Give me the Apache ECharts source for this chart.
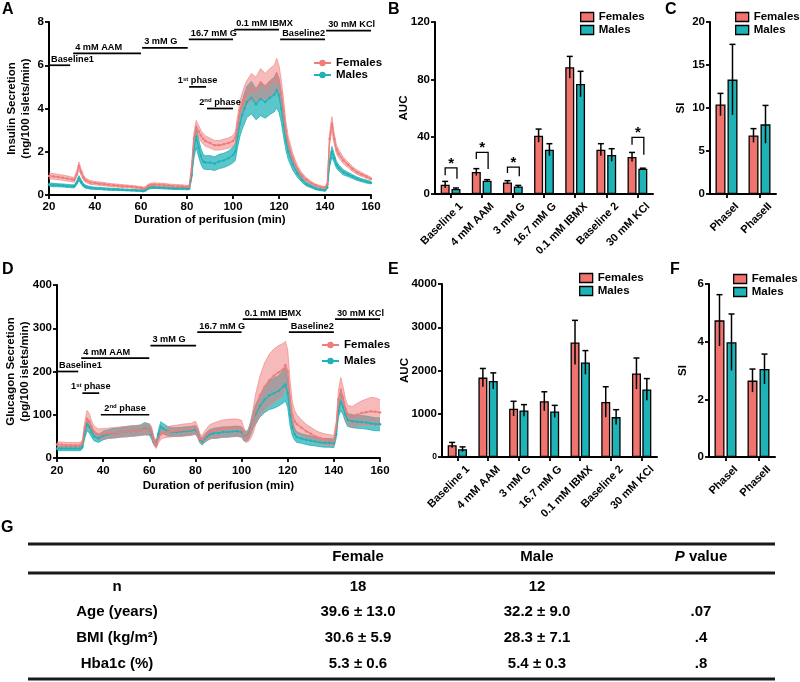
<!DOCTYPE html>
<html><head><meta charset="utf-8">
<script src="https://cdn.jsdelivr.net/npm/echarts@6/dist/echarts.min.js"></script>
<style>html,body{margin:0;padding:0;background:#fff}#c{width:800px;height:682px}</style>
</head><body><div id="c"></div>
<script>
// ---------- time course data (minutes) ----------
const times = [20,22,24,26,28,30, 31,32,33,34,35,36, 38,40,42,44,46,48,50,52,54,56,58,60, 61,62,63,64,65,66, 68,70,72,74,76,78,80, 81,82,83,84,85,86,87,88, 90,92,94,96,98,100, 101,102,103,104,105,106, 108,110,112,114,116,118, 119,120,121,122,123,124, 126,128,130,132,134,136,138,140, 141,142,143,144,145,146, 148,150,152,154,156,158,160];

// Insulin (ng/100 islets/min)
const insFem = [0.88,0.86,0.83,0.80,0.76,0.72, 0.70,0.95,1.35,1.05,0.80,0.68, 0.58,0.55,0.52,0.50,0.47,0.45,0.43,0.41,0.40,0.38,0.36,0.33, 0.30,0.32,0.42,0.46,0.47,0.48, 0.47,0.46,0.44,0.42,0.41,0.40,0.38, 0.40,1.20,2.60,3.15,2.95,2.75,2.60,2.50, 2.40,2.30,2.30,2.35,2.40,2.50, 2.65,3.30,3.90,4.20,4.50,4.70, 5.00,4.85,5.20,5.00,5.20,5.30, 5.60,5.30,4.70,3.90,3.00,2.40, 1.70,1.20,0.90,0.70,0.55,0.45,0.38,0.34, 0.50,2.60,3.30,2.60,2.10,1.90, 1.60,1.40,1.20,1.05,0.95,0.85,0.75];
const insFemSem = [0.13,0.13,0.12,0.12,0.12,0.11, 0.11,0.13,0.18,0.15,0.12,0.10, 0.09,0.08,0.08,0.08,0.07,0.07,0.07,0.07,0.06,0.06,0.06,0.06, 0.06,0.06,0.07,0.08,0.08,0.08, 0.08,0.08,0.07,0.07,0.07,0.07,0.07, 0.07,0.15,0.25,0.30,0.28,0.25,0.24,0.24, 0.23,0.22,0.22,0.23,0.24,0.25, 0.27,0.35,0.45,0.50,0.55,0.58, 0.62,0.60,0.65,0.62,0.65,0.70, 0.72,0.68,0.60,0.50,0.40,0.32, 0.22,0.16,0.12,0.09,0.07,0.06,0.05,0.05, 0.06,0.25,0.32,0.25,0.20,0.18, 0.15,0.13,0.11,0.10,0.09,0.08,0.07];
const insMal = [0.48,0.46,0.45,0.44,0.42,0.40, 0.40,0.55,0.78,0.60,0.45,0.38, 0.33,0.31,0.30,0.28,0.27,0.26,0.25,0.24,0.23,0.22,0.21,0.20, 0.19,0.22,0.30,0.34,0.35,0.35, 0.34,0.33,0.32,0.31,0.30,0.30,0.29, 0.30,0.90,2.10,2.70,2.20,1.80,1.55,1.50, 1.50,1.45,1.55,1.60,1.70,1.85, 2.00,2.70,3.30,3.70,4.00,4.30, 4.50,4.20,4.45,4.30,4.50,4.65, 4.85,4.60,4.00,3.20,2.50,2.00, 1.40,1.00,0.70,0.50,0.40,0.30,0.25,0.22, 0.35,1.50,2.00,1.70,1.40,1.25, 1.05,0.95,0.85,0.75,0.68,0.62,0.57];
const insMalSem = [0.08,0.08,0.07,0.07,0.07,0.07, 0.07,0.08,0.12,0.10,0.08,0.07, 0.06,0.05,0.05,0.05,0.05,0.05,0.04,0.04,0.04,0.04,0.04,0.04, 0.04,0.04,0.05,0.05,0.05,0.05, 0.05,0.05,0.05,0.05,0.05,0.05,0.05, 0.05,0.20,0.40,0.50,0.42,0.36,0.33,0.32, 0.32,0.32,0.33,0.33,0.34,0.36, 0.40,0.50,0.60,0.65,0.70,0.72, 0.75,0.72,0.78,0.75,0.78,0.80, 0.82,0.78,0.65,0.52,0.42,0.35, 0.25,0.18,0.12,0.09,0.07,0.06,0.05,0.05, 0.06,0.20,0.25,0.20,0.16,0.14, 0.12,0.10,0.09,0.08,0.07,0.07,0.06];

// Glucagon (pg/100 islets/min)
const gluFem = [31,31,30,30,30,30, 35,70,90,85,72,62, 55,56,57,58,59,60,61,62,63,64,66,66, 60,40,30,45,55,58, 60,62,63,64,65,66,70, 60,45,42,50,55,60,62,63, 66,68,69,70,70,68, 55,48,52,65,85,110, 145,165,180,190,198,205, 215,200,140,100,85,78, 70,62,56,50,46,43,42,40, 70,135,158,140,115,100, 95,100,104,106,108,107,105];
const gluFemSem = [6,6,6,6,6,6, 6,12,20,18,14,12, 12,12,12,12,12,12,12,12,12,12,13,13, 12,10,8,10,12,12, 12,13,13,14,14,14,15, 13,10,10,12,14,16,17,18, 19,20,20,20,20,19, 15,12,14,20,28,35, 45,55,60,62,62,60, 55,50,40,30,25,22, 18,16,15,14,13,13,12,12, 14,22,28,25,22,22, 24,26,28,30,32,32,30];
const gluMal = [22,22,22,22,22,22, 26,55,78,72,60,50, 45,52,55,57,58,60,61,62,63,64,68,66, 55,38,32,55,72,68, 62,60,60,61,62,63,65, 58,42,38,45,50,54,56,57, 58,60,60,61,62,60, 52,50,55,70,88,100, 120,135,145,150,155,165, 170,150,100,70,55,48, 45,42,40,38,36,35,35,34, 55,110,130,118,100,88, 85,84,83,82,80,78,78];
const gluMalSem = [5,5,5,5,5,5, 5,10,15,14,12,10, 9,10,10,11,11,11,12,12,12,12,14,13, 12,8,7,10,12,12, 11,10,10,10,10,10,10, 10,8,8,9,10,11,11,12, 12,12,12,12,12,12, 12,11,12,15,18,22, 25,30,33,35,35,38, 38,33,25,18,14,12, 11,11,11,10,10,10,10,10, 10,15,20,18,16,15, 15,15,15,15,15,15,15];

// treatment periods
const treatNames = ['Baseline1','4 mM AAM','3 mM G','16.7 mM G','0.1 mM IBMX','Baseline2','30 mM KCl'];
const treatStart = [20,30.5,60.5,80.8,100.5,120.5,140.5];
const treatEnd   = [29.2,60,80.3,100,120,140,160];
const treatLevelIns = [6.0,6.55,6.8,7.2,7.65,7.2,7.6];
const treatLevelGlu = [200,231,260,291,321,291,321];
const phaseNames = ['1st phase','2nd phase'];
const phaseStartIns = [80.9,88.7], phaseEndIns = [88.3,100], phaseLevelIns = [5.0,4.0];
const phaseStartGlu = [31.0,39.0], phaseEndGlu = [38.3,60], phaseLevelGlu = [150,100];

// AUC bars
const aucCats = ['Baseline 1','4 mM AAM','3 mM G','16.7 mM G','0.1 mM IBMX','Baseline 2','30 mM KCl'];
const insAucFem = [6.5,15.3,8.1,40.7,88.4,30.9,25.8];
const insAucFemSem = [2.3,2.4,1.2,4.6,7.6,4.2,3.2];
const insAucMal = [3.5,9.3,5.3,30.9,76.7,27.2,17.7];
const insAucMalSem = [0.7,0.7,0.7,4.2,8.9,4.4,0.3];
const sigCat = [0,1,2,6];
const sigTop = [18.2,29.1,18.8,39.5];
const sigLeftEnd = [13.0,24.4,14.7,34.4];
const sigRightEnd = [10.7,17.4,12.3,27.4];

const gluAucFem = [274,1836,1117,1288,2650,1273,1930];
const gluAucFemSem = [63,211,171,220,510,352,359];
const gluAucMal = [180,1758,1077,1054,2187,922,1563];
const gluAucMalSem = [54,187,134,140,273,172,250];

// stimulation index
const siCats = ['PhaseI','PhaseII'];
const insSiFem = [10.4,6.8], insSiFemSem = [1.3,0.8];
const insSiMal = [13.3,8.1], insSiMalSem = [4.1,2.2];
const gluSiFem = [4.74,2.65], gluSiFemSem = [0.89,0.40];
const gluSiMal = [3.98,3.05], gluSiMalSem = [0.98,0.52];

// table
const tableCols = ['', 'Female', 'Male', 'P value'];
const tableRowLabels = ['n','Age (years)','BMI (kg/m²)','Hba1c (%)'];
const tableFemale = ['18','39.6 ± 13.0','30.6 ± 5.9','5.3 ± 0.6'];
const tableMale = ['12','32.2 ± 9.0','28.3 ± 7.1','5.4 ± 0.3'];
const tableP = ['','.07','.4','.8'];

// ---------- styling ----------
const FONT = '"Liberation Sans", Arial, Helvetica, sans-serif';
const FEM_LINE = '#EE7C7A', MAL_LINE = '#1FB2B6';
const FEM_BAND = 'rgba(240,118,118,0.5)', MAL_BAND = 'rgba(28,178,184,0.72)';
const FEM_BAR = '#F1736D', MAL_BAR = '#1DB3B7';

function ax(o){
  const b = {
    axisLine:{show:true, onZero:false, lineStyle:{color:'#000', width:2}},
    axisTick:{show:true, length:4, lineStyle:{color:'#000', width:1.8}},
    axisLabel:{color:'#000', fontWeight:'bold', fontSize:11.5, fontFamily:FONT},
    splitLine:{show:false},
    nameTextStyle:{color:'#000', fontWeight:'bold', fontSize:11.5, fontFamily:FONT},
    nameMoveOverlap:false
  };
  for (const k in o){
    if (b[k] && typeof b[k]==='object' && o[k] && typeof o[k]==='object' && !Array.isArray(o[k])) b[k] = Object.assign({}, b[k], o[k]);
    else b[k] = o[k];
  }
  return b;
}
const rotLabel = {rotate:45, interval:0, fontSize:11, margin:0, align:'right', verticalAlign:'top', lineHeight:30};

function bandSeries(idx, mean, sem, fill, edge, z){
  return {type:'custom', xAxisIndex:idx, yAxisIndex:idx, z:z, silent:true,
    data:[[times[0], mean[0]]],
    renderItem:function(params, api){
      const up = [], lo = [];
      for (let i=0;i<times.length;i++){
        up.push(api.coord([times[i], mean[i]+sem[i]]));
        lo.push(api.coord([times[i], Math.max(0, mean[i]-sem[i])]));
      }
      return {type:'group', children:[
        {type:'polygon', shape:{points:up.concat(lo.slice().reverse())}, style:{fill:fill}},
        {type:'polyline', shape:{points:up}, style:{stroke:edge, lineWidth:0.7, fill:null}},
        {type:'polyline', shape:{points:lo}, style:{stroke:edge, lineWidth:0.7, fill:null}}
      ]};
    }};
}
function lineSeries(idx, name, mean, color, z){
  return {type:'line', name:name, xAxisIndex:idx, yAxisIndex:idx, z:z,
    data:times.map((t,i)=>[t, mean[i]]), color:color,
    symbol:'circle', symbolSize:2.5, showSymbol:true,
    lineStyle:{color:color, width:1.3}, itemStyle:{color:color}};
}
function treatSeries(idx, levels){
  return {type:'custom', xAxisIndex:idx, yAxisIndex:idx, z:6, silent:true,
    data:treatNames.map((n,i)=>[treatStart[i], levels[i], treatEnd[i], i]),
    renderItem:function(params, api){
      const s = api.coord([api.value(0), api.value(1)]);
      const e = api.coord([api.value(2), api.value(1)]);
      return {type:'group', children:[
        {type:'line', shape:{x1:s[0], y1:s[1], x2:e[0], y2:e[1]}, style:{stroke:'#000', lineWidth:1.7}},
        {type:'text', x:s[0]+2, y:s[1]-1.5, style:{text:treatNames[api.value(3)], fontSize:9.2, fontWeight:'bold', fontFamily:FONT, fill:'#000', align:'left', verticalAlign:'bottom'}}
      ]};
    }};
}
function phaseSeries(idx, st, en, lv){
  return {type:'custom', xAxisIndex:idx, yAxisIndex:idx, z:6, silent:true,
    data:phaseNames.map((n,i)=>[st[i], lv[i], en[i], i]),
    renderItem:function(params, api){
      const s = api.coord([api.value(0), api.value(1)]);
      const e = api.coord([api.value(2), api.value(1)]);
      const txt = phaseNames[api.value(3)].replace(/^(\d)(st|nd|rd|th)/, '$1{s|$2}');
      return {type:'group', children:[
        {type:'line', shape:{x1:s[0], y1:s[1], x2:e[0], y2:e[1]}, style:{stroke:'#000', lineWidth:1.7}},
        {type:'text', x:(s[0]+e[0])/2, y:s[1]-2, style:{text:txt, fontSize:9.2, fontWeight:'bold', fontFamily:FONT, fill:'#000', align:'center', verticalAlign:'bottom',
          rich:{s:{fontSize:6, fontWeight:'bold', fontFamily:FONT, fill:'#000', verticalAlign:'top'}}}}
      ]};
    }};
}
function barSeries(idx, name, vals, color, bw, gap){
  return {type:'bar', name:name, xAxisIndex:idx, yAxisIndex:idx, data:vals, barWidth:bw, barGap:gap, z:2,
    itemStyle:{color:color, borderColor:'#000', borderWidth:1.3}};
}
function errSeries(idx, fem, femSem, mal, malSem, off){
  return {type:'custom', xAxisIndex:idx, yAxisIndex:idx, z:5, silent:true,
    data:fem.map((v,i)=>[i, v]),
    renderItem:function(params, api){
      const i = api.value(0);
      const base = api.coord([i, 0])[0];
      const ch = [];
      [[fem[i], femSem[i], -off], [mal[i], malSem[i], off]].forEach(function(d){
        const x = base + d[2];
        const yt = api.coord([i, d[0]+d[1]])[1];
        const yb = api.coord([i, Math.max(0, d[0]-d[1])])[1];
        ch.push({type:'line', shape:{x1:x, y1:yb, x2:x, y2:yt}, style:{stroke:'#000', lineWidth:1.5}});
        ch.push({type:'line', shape:{x1:x-3, y1:yt, x2:x+3, y2:yt}, style:{stroke:'#000', lineWidth:1.5}});
      });
      return {type:'group', children:ch};
    }};
}
function sigSeries(idx, off){
  return {type:'custom', xAxisIndex:idx, yAxisIndex:idx, z:5, silent:true,
    data:sigCat.map((c,k)=>[c, sigTop[k], sigLeftEnd[k], sigRightEnd[k]]),
    renderItem:function(params, api){
      const c = api.value(0);
      const base = api.coord([c, 0])[0];
      const xl = base - off, xr = base + off + 1;
      const yt = api.coord([c, api.value(1)])[1];
      const yl = api.coord([c, api.value(2)])[1];
      const yr = api.coord([c, api.value(3)])[1];
      return {type:'group', children:[
        {type:'polyline', shape:{points:[[xl,yl],[xl,yt],[xr,yt],[xr,yr]]}, style:{stroke:'#000', lineWidth:1.3, fill:null}},
        {type:'text', x:(xl+xr)/2, y:yt+3, style:{text:'*', fontSize:15, fontWeight:'bold', fontFamily:FONT, fill:'#000', align:'center', verticalAlign:'bottom'}}
      ]};
    }};
}
function lineLegend(left, top, gap){
  return {left:left, top:top, orient:'vertical', itemGap:gap, itemWidth:17, itemHeight:8, padding:0, selectedMode:false,
    data:['Females','Males'], textStyle:{fontSize:11.5, fontWeight:'bold', lineHeight:12, fontFamily:FONT, color:'#000'}};
}
function barLegend(left, top){
  return {left:left, top:top, orient:'vertical', itemGap:1, itemWidth:13, itemHeight:9, padding:0, selectedMode:false, icon:'rect',
    data:[{name:'Females', icon:'rect', itemStyle:{color:FEM_BAR, borderColor:'#000', borderWidth:1.3}},
          {name:'Males', icon:'rect', itemStyle:{color:MAL_BAR, borderColor:'#000', borderWidth:1.3}}],
    textStyle:{fontSize:11.5, fontWeight:'bold', lineHeight:11, fontFamily:FONT, color:'#000'}};
}

// graphic: panel letters + table
const graphics = [];
[['A',2,10],['B',388,10],['C',665,10],['D',2,270],['E',388,270],['F',670,270],['G',1,528]].forEach(function(l){
  graphics.push({type:'text', x:l[1], y:l[2], style:{text:l[0], fontSize:16, fontWeight:'bold', fontFamily:FONT, fill:'#000', align:'left', verticalAlign:'middle'}});
});
[544,573,679].forEach(function(y){
  graphics.push({type:'line', shape:{x1:28, y1:y, x2:775, y2:y}, style:{stroke:'#1a1a1a', lineWidth:3}});
});
const colX = [117, 358, 537, 701];
const rowY = [587, 612, 638, 664];
const tStyle = {fontSize:15, fontWeight:'bold', fontFamily:FONT, fill:'#000', align:'center', verticalAlign:'middle'};
tableCols.forEach(function(t, j){
  if (!t) return;
  const txt = t === 'P value' ? '{i|P} value' : t;
  graphics.push({type:'text', x:colX[j], y:557, style:Object.assign({}, tStyle, {text:txt, rich:{i:{fontStyle:'italic', fontWeight:'bold', fontSize:15, fontFamily:FONT, fill:'#000'}}})});
});
tableRowLabels.forEach(function(lbl, r){
  [lbl, tableFemale[r], tableMale[r], tableP[r]].forEach(function(t, j){
    if (!t) return;
    graphics.push({type:'text', x:colX[j], y:rowY[r], style:Object.assign({}, tStyle, {text:t})});
  });
});

const option = {
  animation:false,
  backgroundColor:'#fff',
  textStyle:{fontFamily:FONT},
  grid:[
    {left:49, top:22, width:322, height:173, outerBoundsMode:'none'},
    {left:435, top:22, width:218, height:172, outerBoundsMode:'none'},
    {left:710, top:22, width:66, height:172, outerBoundsMode:'none'},
    {left:57, top:285, width:323, height:173, outerBoundsMode:'none'},
    {left:442, top:284, width:215, height:173, outerBoundsMode:'none'},
    {left:709, top:284, width:66, height:173, outerBoundsMode:'none'}
  ],
  xAxis:[
    ax({type:'value', gridIndex:0, min:20, max:160, interval:20, name:'Duration of perifusion (min)', nameLocation:'middle', nameGap:19, axisLabel:{margin:6}}),
    ax({type:'category', gridIndex:1, data:aucCats, axisTick:{alignWithLabel:true}, axisLabel:rotLabel}),
    ax({type:'category', gridIndex:2, data:siCats, axisTick:{alignWithLabel:true}, axisLabel:rotLabel}),
    ax({type:'value', gridIndex:3, min:20, max:160, interval:20, name:'Duration of perifusion (min)', nameLocation:'middle', nameGap:22, axisLabel:{margin:7}}),
    ax({type:'category', gridIndex:4, data:aucCats, axisTick:{alignWithLabel:true}, axisLabel:rotLabel}),
    ax({type:'category', gridIndex:5, data:siCats, axisTick:{alignWithLabel:true}, axisLabel:rotLabel})
  ],
  yAxis:[
    ax({type:'value', gridIndex:0, min:0, max:8, interval:2, name:'Insulin Secretion\n(ng/100 islets/min)', nameLocation:'middle', nameGap:16, nameTextStyle:{lineHeight:14}, axisLabel:{margin:5}}),
    ax({type:'value', gridIndex:1, min:0, max:120, interval:40, name:'AUC', nameLocation:'middle', nameGap:25, axisLabel:{margin:5}}),
    ax({type:'value', gridIndex:2, min:0, max:20, interval:5, name:'SI', nameLocation:'middle', nameGap:23, axisLabel:{margin:5}}),
    ax({type:'value', gridIndex:3, min:0, max:400, interval:100, name:'Glucagon Secretion\n(pg/100 islets/min)', nameLocation:'middle', nameGap:25, nameTextStyle:{lineHeight:14}, axisLabel:{margin:5}}),
    ax({type:'value', gridIndex:4, min:0, max:4000, interval:1000, name:'AUC', nameLocation:'middle', nameGap:31, axisLabel:{margin:5, formatter:function(v){return v===0?'{s|0}':String(v);}, rich:{s:{fontSize:8.5, fontWeight:'bold', color:'#000', fontFamily:FONT}}}}),
    ax({type:'value', gridIndex:5, min:0, max:6, interval:2, name:'SI', nameLocation:'middle', nameGap:20, axisLabel:{margin:5}})
  ],
  legend:[
    lineLegend(313, 57, 0),
    barLegend(580, 11),
    barLegend(735, 11),
    lineLegend(321, 339, 4),
    barLegend(579, 272),
    barLegend(733, 273)
  ],
  graphic:graphics,
  series:[
    // A
    lineSeries(0, 'Females', insFem, FEM_LINE, 4),
    lineSeries(0, 'Males', insMal, MAL_LINE, 3),
    bandSeries(0, insMal, insMalSem, MAL_BAND, '#17a7ab', 1),
    bandSeries(0, insFem, insFemSem, FEM_BAND, '#ee8a8a', 2),
    treatSeries(0, treatLevelIns),
    phaseSeries(0, phaseStartIns, phaseEndIns, phaseLevelIns),
    // B
    barSeries(1, 'Females', insAucFem, FEM_BAR, 9, '20%'),
    barSeries(1, 'Males', insAucMal, MAL_BAR, 9, '20%'),
    errSeries(1, insAucFem, insAucFemSem, insAucMal, insAucMalSem, 5.4),
    sigSeries(1, 5.4),
    // C
    barSeries(2, 'Females', insSiFem, FEM_BAR, 10, '20%'),
    barSeries(2, 'Males', insSiMal, MAL_BAR, 10, '20%'),
    errSeries(2, insSiFem, insSiFemSem, insSiMal, insSiMalSem, 6),
    // D
    lineSeries(3, 'Females', gluFem, FEM_LINE, 4),
    lineSeries(3, 'Males', gluMal, MAL_LINE, 3),
    bandSeries(3, gluMal, gluMalSem, MAL_BAND, '#17a7ab', 1),
    bandSeries(3, gluFem, gluFemSem, FEM_BAND, '#ee8a8a', 2),
    treatSeries(3, treatLevelGlu),
    phaseSeries(3, phaseStartGlu, phaseEndGlu, phaseLevelGlu),
    // E
    barSeries(4, 'Females', gluAucFem, FEM_BAR, 9, '15%'),
    barSeries(4, 'Males', gluAucMal, MAL_BAR, 9, '15%'),
    errSeries(4, gluAucFem, gluAucFemSem, gluAucMal, gluAucMalSem, 5.2),
    // F
    barSeries(5, 'Females', gluSiFem, FEM_BAR, 10, '20%'),
    barSeries(5, 'Males', gluSiMal, MAL_BAR, 10, '20%'),
    errSeries(5, gluSiFem, gluSiFemSem, gluSiMal, gluSiMalSem, 6)
  ]
};
const chart = echarts.init(document.getElementById('c'), null, {renderer:'canvas', width:800, height:682});
chart.setOption(option);
</script></body></html>
